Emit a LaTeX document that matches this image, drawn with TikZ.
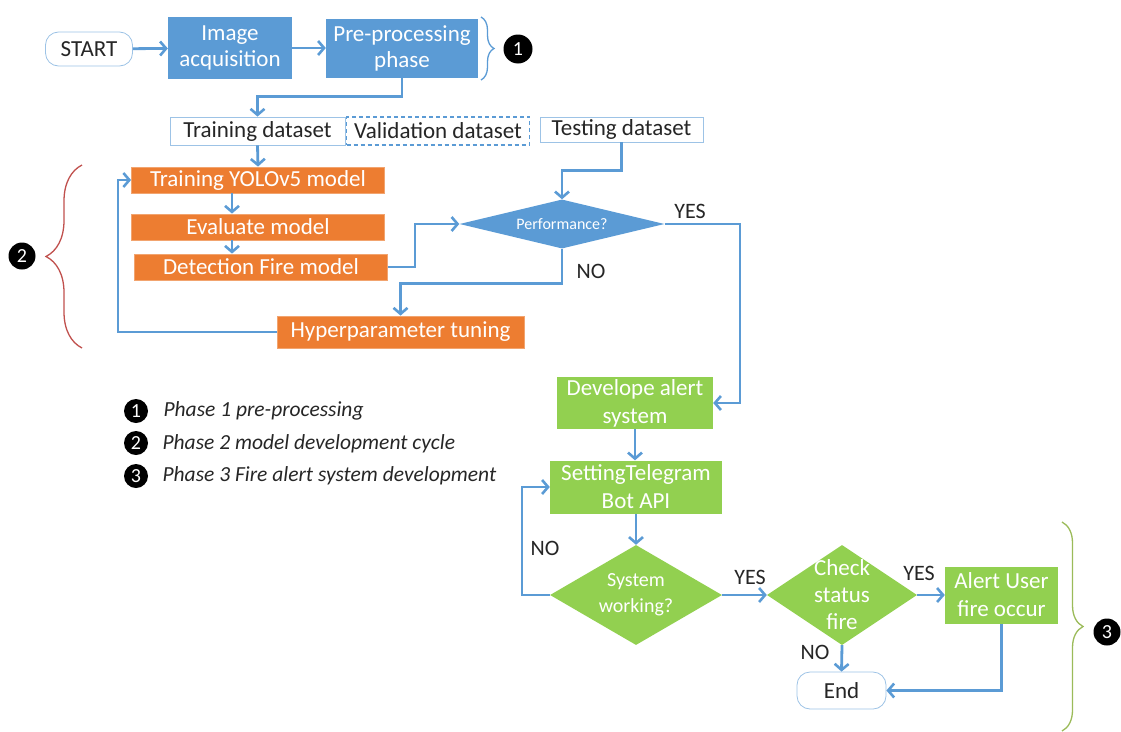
\documentclass[tikz,border=0pt]{standalone}
\usepackage{fontspec}
\setmainfont{Carlito}
\usetikzlibrary{arrows.meta,shapes.geometric,decorations.pathreplacing,calc}
\definecolor{cblue}{HTML}{5B9BD5}
\definecolor{corange}{HTML}{ED7D31}
\definecolor{cgreen}{HTML}{92D050}
\definecolor{lblue}{HTML}{9DC3E6}
\definecolor{bred}{HTML}{C0504D}
\definecolor{bgreen}{HTML}{9BBB59}
\tikzset{
  arr/.style={draw=cblue,line width=2.8pt,-{Straight Barb[length=6pt,width=14pt,line width=2.6pt]}},
  bluebox/.style={fill=cblue,text=white,inner sep=0pt,align=center,font=\fontsize{23}{26}\selectfont},
  orbox/.style={fill=corange,draw=corange!70!white,line width=0.8pt,text=white,inner sep=0pt,align=center,font=\fontsize{23}{24}\selectfont,minimum width=253pt,minimum height=26pt},
  grbox/.style={fill=cgreen,text=white,inner sep=0pt,align=center,font=\fontsize{23}{28}\selectfont},
  dsbox/.style={draw=lblue,line width=0.8pt,fill=white,inner sep=0pt,minimum height=28pt,font=\fontsize{23}{24}\selectfont,text=black!85},
  term/.style={draw=lblue,line width=0.8pt,rounded corners=13pt,fill=white,inner sep=0pt,font=\fontsize{23}{24}\selectfont,text=black!85},
  dia/.style={diamond,inner sep=0pt,align=center,text=white},
  lbl/.style={font=\fontsize{22}{24}\selectfont,text=black!85},
  numc/.style={circle,fill=black,text=white,inner sep=0pt,font=\fontsize{20}{20}\selectfont},
  leg/.style={anchor=west,font=\itshape\fontsize{21.5}{24}\selectfont,text=black!85},
}
\begin{document}
\begin{tikzpicture}[x=1pt,y=-1pt]
\useasboundingbox (0,0) rectangle (1121,731);
% phase 1
\node[term,minimum width=87pt,minimum height=34pt] (start) at (89,49) {START};
\node[bluebox,minimum width=124pt,minimum height=62pt] (img) at (230,48) {Image\\acquisition};
\node[bluebox,minimum width=152pt,minimum height=59pt] (pre) at (402,48) {Pre-processing\\phase};
\draw[decorate,decoration={brace,amplitude=13pt},draw=cblue,line width=1.3pt] (481,17) -- (481,80);
\node[numc,minimum size=29pt] (n1) at (518,49) {1};
% datasets
\node[dsbox,minimum width=175pt] (train) at (257.5,131) {Training dataset};
\node[dsbox,draw=cblue,line width=1.3pt,dash pattern=on 4pt off 3pt,minimum width=183pt] (val) at (438,131) {Validation dataset};
\node[dsbox,minimum width=163pt,minimum height=25pt] (test) at (621.5,129.5) {Testing dataset};
% phase 2
\node[orbox] (yolo) at (258,180) {Training YOLOv5 model};
\node[orbox] (eval) at (258,227) {Evaluate model};
\node[orbox] (det) at (261,267) {Detection Fire model};
\node[dia,fill=cblue,aspect=4.18,minimum width=205pt,minimum height=49pt,font=\fontsize{16}{18}\selectfont] (perf) at (562,224) {Performance?};
\node[orbox,minimum width=247pt,minimum height=32pt] (hyp) at (400.5,332) {Hyperparameter tuning};
\draw[decorate,decoration={brace,amplitude=36pt},draw=bred,line width=1.3pt] (82,348) -- (82,165);
\node[numc,minimum size=27pt] (n2) at (22,256) {2};
% legend
\node[numc,minimum size=24pt] (l1) at (136,411) {1};
\node[leg] (t1) at (160,411) {Phase 1 pre-processing};
\node[numc,minimum size=24pt] (l2) at (136,443) {2};
\node[leg] (t2) at (159,444) {Phase 2 model development cycle};
\node[numc,minimum size=24pt] (l3) at (136,476) {3};
\node[leg] (t3) at (159,476) {Phase 3 Fire alert system development};
% phase 3
\node[grbox,minimum width=156pt,minimum height=52pt] (dev) at (635,403) {Develope alert\\system};
\node[grbox,minimum width=172pt,minimum height=53pt] (set) at (636,487) {SettingTelegram\\Bot API};
\node[dia,fill=cgreen,aspect=1.72,minimum width=172pt,minimum height=100pt,font=\fontsize{20}{26}\selectfont] (sys) at (636,595) {System\\working?};
\node[dia,fill=cgreen,aspect=1.5,inner xsep=-12pt,inner ysep=-8pt,minimum width=150pt,minimum height=100pt,font=\fontsize{23}{27}\selectfont] (chk) at (842,595) {Check\\status\\fire};
\node[grbox,minimum width=113pt,minimum height=57pt] (alert) at (1001.5,595) {Alert User\\fire occur};
\node[term,minimum width=89pt,minimum height=37pt] (end) at (841.5,690.5) {End};
\draw[decorate,decoration={brace,amplitude=21pt},draw=bgreen,line width=1.3pt] (1062,522) -- (1062,731);
\node[numc,minimum size=27pt] (n3) at (1107,632) {3};
% labels
\node[lbl] (yes1) at (690,211) {YES};
\node[lbl] (no1) at (591,271) {NO};
\node[lbl] (no2) at (545,548) {NO};
\node[lbl] (yes2) at (750,577) {YES};
\node[lbl] (yes3) at (919,573) {YES};
\node[lbl] (no3) at (815,652) {NO};
% connectors
\coordinate (yesR) at (740,224);
\coordinate (loopL) at (118,332);
\coordinate (noL) at (522,595);
\draw[arr] (start) -- (img);
\draw[arr] (img) -- (pre);
\draw[arr] (pre.south) -- ++(0,19) -| (train.north);
\draw[arr] (train.south) -- (yolo.north);
\draw[arr] ([xshift=-26pt]yolo.south) -- ([xshift=-26pt]eval.north);
\draw[arr] ([xshift=-26pt]eval.south) -- ([xshift=-29pt]det.north);
\draw[arr] (test.south) -- ++(0,28) -| (perf.north);
\draw[arr] (det.east) -- ++(27,0) |- (perf.west);
\draw[arr] (perf.south) -- ++(0,35) -| (hyp.north);
\draw[arr] (hyp.west) -- (loopL) |- (yolo.west);
\draw[arr] (perf.east) -- (yesR) |- (dev.east);
\draw[arr] (dev.south) -- (dev.south |- set.north);
\draw[arr] (set.south) -- (sys.north);
\draw[arr] (sys.west) -- (noL) |- (set.west);
\draw[arr] (sys.east) -- (chk.west);
\draw[arr] (chk.east) -- (alert.west);
\draw[arr] (chk.south) -- (end.north);
\draw[arr] (alert.south) |- (end.east);
\end{tikzpicture}
\end{document}
